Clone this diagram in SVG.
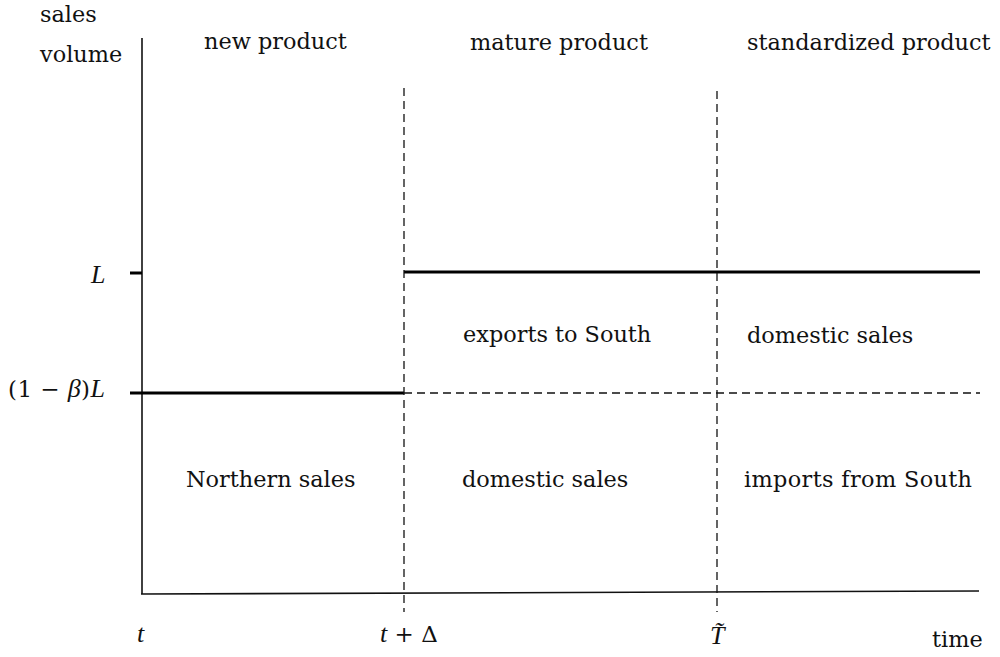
<svg xmlns="http://www.w3.org/2000/svg" width="1000" height="657" viewBox="0 0 1000 657">
<style>
.lbl{font-family:"DejaVu Serif","Liberation Serif",serif;font-size:22.4px;fill:#111}
.math{font-family:"DejaVu Serif","Liberation Serif",serif;font-size:23px;fill:#111}
.it{font-family:"Liberation Serif","DejaVu Serif",serif;font-style:italic;font-size:26px}
.ax{stroke:#111;stroke-width:1.6;fill:none}
.thick{stroke:#000;stroke-width:3;fill:none}
.dash{stroke:#111;stroke-width:1.3;stroke-dasharray:8 5;fill:none}
</style>
<rect width="1000" height="657" fill="#fff"/>
<g id="connectors">
<line class="ax" x1="142" y1="38" x2="142" y2="594"/>
<line class="ax" x1="141" y1="594" x2="979" y2="591"/>
<line class="thick" x1="130" y1="273" x2="142" y2="273"/>
<line class="thick" x1="404" y1="272" x2="980" y2="272"/>
<line class="thick" x1="130" y1="393" x2="404" y2="393"/>
<line class="dash" x1="404" y1="393" x2="980" y2="393"/>
<line class="dash" x1="404" y1="88" x2="404" y2="612"/>
<line class="dash" x1="717" y1="91" x2="717" y2="612"/>
</g>
<g id="axis-y-label"><text class="lbl" x="40" y="22">sales</text><text class="lbl" x="40" y="62">volume</text></g>
<g id="axis-x-label"><text class="lbl" x="932" y="647">time</text></g>
<g id="phase-new"><text class="lbl" x="204" y="49">new product</text></g>
<g id="phase-mature"><text class="lbl" x="470" y="50">mature product</text></g>
<g id="phase-standardized"><text class="lbl" x="747" y="50">standardized product</text></g>
<g id="exports-south"><text class="lbl" x="463" y="342">exports to South</text></g>
<g id="domestic-right"><text class="lbl" x="747" y="343">domestic sales</text></g>
<g id="northern-sales"><text class="lbl" x="186" y="487">Northern sales</text></g>
<g id="domestic-mid"><text class="lbl" x="462" y="487">domestic sales</text></g>
<g id="imports-south"><text class="lbl" x="744" y="487" textLength="228">imports from South</text></g>
<g id="label-L"><text class="math it" x="91" y="283">L</text></g>
<g id="label-1-beta-L"><text class="math" x="8" y="397" textLength="97">(1 − <tspan class="it">β</tspan>)<tspan class="it">L</tspan></text></g>
<g id="label-t"><text class="math it" x="137" y="642">t</text></g>
<g id="label-t-delta"><text class="math" x="380" y="642"><tspan class="it">t</tspan> + Δ</text></g>
<g id="label-T"><text class="math it" x="710" y="644">T̃</text></g>
</svg>
